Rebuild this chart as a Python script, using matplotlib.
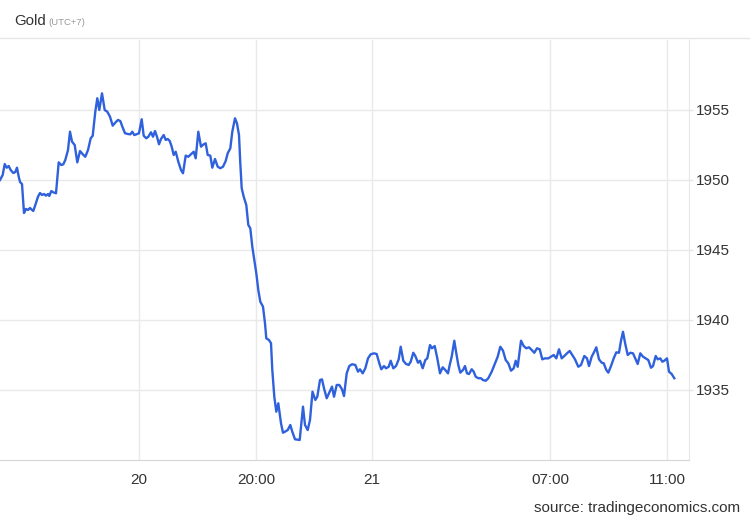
import matplotlib
matplotlib.use("Agg")
import matplotlib.pyplot as plt
from matplotlib.lines import Line2D

plt.rcParams['font.family'] = ['Liberation Sans', 'DejaVu Sans']

# sample position (intraday, non-linear trading time) and gold price
t = [0, 2.7, 4.7, 6.7, 8.7, 10.7, 13.3, 15.3, 17, 18.7, 20, 22, 24, 26, 28, 30, 32, 33.3,
     35.3, 38, 40, 42, 44, 46, 48, 49.3, 51.3, 53.3, 56, 58.7, 61.3, 63.3, 65.3, 68, 70,
     72, 74.7, 77.3, 80, 82.7, 85.3, 88, 90.7, 92.7, 95.3, 97.3, 99.3, 102, 104.7, 107.3,
     110, 112.7, 115.3, 118, 120.3, 123, 125, 127.7, 130.3, 132.3, 134.3, 136.3, 139,
     141.7, 143.7, 146.3, 148.3, 151, 153, 155, 157, 159, 161, 163.7, 165.7, 167.7, 169.7,
     171.7, 173.7, 175.7, 178.3, 181, 183, 185.7, 188.3, 191, 193.7, 195.7, 198.3, 201,
     203.7, 205.7, 207.7, 210.3, 212.3, 215, 217.7, 220.3, 223, 225.7, 227.7, 230.3, 232.3,
     235, 237, 239, 240.3, 241.7, 243.7, 246.3, 248.3, 250.3, 252.3, 254.3, 256.3, 258.3,
     260.3, 263, 265, 266.3, 269, 271, 272.3, 274.3, 276.3, 278.3, 281, 283, 285, 287.7,
     290.3, 292.3, 295, 299.7, 303, 305, 307.7, 310, 312.5, 315.3, 317.3, 320, 322, 324,
     326.7, 329.3, 332, 334, 336.7, 339.3, 342, 344, 346.7, 349.3, 352, 355.3, 358, 360,
     362.7, 365.3, 368, 370.7, 374, 376.7, 379.3, 381.3, 384, 386, 388.7, 390.7, 393.3,
     396, 398.7, 400.7, 403.3, 406, 408.7, 410.7, 413.3, 415.3, 418, 420, 422.7, 425.3,
     427.3, 430, 432, 434.7, 437.3, 440, 442.7, 445.3, 448, 449.7, 451.7, 454.3, 456.3,
     458.3, 460.3, 463, 465, 467, 469, 471.7, 473.7, 475.7, 478.3, 481, 483, 485.7, 488.3,
     491.7, 495, 497.7, 500.3, 503, 505.7, 508.3, 511, 513.7, 515.7, 517.7, 521, 523.7,
     526.3, 529, 531.7, 534.3, 537, 539.7, 542.3, 545, 548.3, 551, 553.7, 556.3, 559,
     561.7, 564.3, 567, 569.7, 572.3, 575, 578.3, 581, 584.3, 587, 589, 591.7, 594.3,
     596.3, 599, 601.7, 603.7, 606.3, 608.3, 611, 613.7, 616.3, 619, 621, 623, 625, 627.7,
     630.3, 633, 635.7, 637.7, 640.3, 643, 645.7, 648.3, 651, 653, 655.7, 657.7, 660.3,
     662.3, 664.3, 667, 669, 671.7, 674.3]

price = [1950.00, 1950.36, 1951.14, 1950.88, 1951.00, 1950.71, 1950.50, 1950.57, 1950.88,
         1950.24, 1949.86, 1949.71, 1947.64, 1947.93, 1947.86, 1948.00, 1947.86, 1947.79,
         1948.21, 1948.81, 1949.07, 1948.93, 1949.00, 1948.88, 1949.00, 1948.86, 1949.21,
         1949.12, 1949.05, 1951.26, 1951.07, 1951.12, 1951.43, 1952.14, 1953.45, 1952.74,
         1952.50, 1951.26, 1952.07, 1951.84, 1951.66, 1952.14, 1952.98, 1953.16, 1954.88,
         1955.84, 1955.00, 1956.19, 1955.00, 1954.88, 1954.52, 1953.88, 1954.10, 1954.29,
         1954.21, 1953.69, 1953.34, 1953.29, 1953.26, 1953.45, 1953.21, 1953.26, 1953.34,
         1954.34, 1953.16, 1952.98, 1953.09, 1953.41, 1953.09, 1953.50, 1953.09, 1952.55,
         1952.93, 1953.21, 1952.86, 1952.93, 1952.79, 1952.38, 1951.79, 1952.02, 1951.31,
         1950.71, 1950.48, 1951.74, 1951.66, 1951.84, 1952.02, 1951.55, 1953.45, 1952.38,
         1952.55, 1952.62, 1951.79, 1951.74, 1950.88, 1951.50, 1950.95, 1950.84, 1950.95,
         1951.36, 1951.91, 1952.26, 1953.45, 1954.41, 1954.04, 1953.21, 1951.19, 1949.41,
         1948.81, 1948.21, 1946.79, 1946.55, 1945.24, 1944.29, 1943.34, 1942.14, 1941.31,
         1940.95, 1939.76, 1938.69, 1938.57, 1938.34, 1936.43, 1934.52, 1933.45, 1934.05,
         1932.62, 1931.95, 1932.02, 1932.14, 1932.50, 1932.02, 1931.48, 1931.43, 1933.81,
         1932.50, 1932.14, 1932.86, 1934.88, 1934.29, 1934.52, 1935.71, 1935.76, 1935.12,
         1934.41, 1934.81, 1935.24, 1934.52, 1935.36, 1935.36, 1935.05, 1934.57, 1936.19,
         1936.71, 1936.84, 1936.79, 1936.31, 1936.48, 1936.19, 1936.55, 1937.26, 1937.55,
         1937.62, 1937.57, 1936.91, 1936.48, 1936.71, 1936.55, 1936.66, 1937.09, 1936.55,
         1936.71, 1937.19, 1938.09, 1937.09, 1936.86, 1936.79, 1937.02, 1937.66, 1937.43,
         1936.95, 1937.09, 1936.55, 1937.14, 1937.26, 1938.21, 1937.98, 1938.14, 1937.26,
         1936.19, 1936.62, 1936.43, 1936.19, 1936.79, 1937.38, 1938.52, 1937.62, 1936.79,
         1936.24, 1936.43, 1936.71, 1936.19, 1936.14, 1936.48, 1936.31, 1935.95, 1935.84,
         1935.84, 1935.71, 1935.66, 1935.84, 1936.31, 1936.91, 1937.38, 1938.09, 1937.81,
         1937.14, 1936.91, 1936.38, 1936.55, 1937.09, 1936.66, 1938.52, 1938.14, 1937.98,
         1938.05, 1937.86, 1937.66, 1937.98, 1937.91, 1937.19, 1937.26, 1937.26, 1937.38,
         1937.50, 1937.26, 1937.91, 1937.26, 1937.43, 1937.62, 1937.79, 1937.50, 1937.19,
         1936.66, 1936.79, 1937.43, 1937.26, 1936.71, 1937.38, 1937.74, 1938.05, 1937.19,
         1936.95, 1936.91, 1936.43, 1936.24, 1936.71, 1937.26, 1937.69, 1937.66, 1938.52,
         1939.16, 1938.38, 1937.50, 1937.66, 1937.62, 1937.19, 1936.86, 1937.62, 1937.38,
         1937.26, 1937.14, 1936.59, 1936.71, 1937.43, 1937.19, 1937.26, 1937.02, 1937.09,
         1937.26, 1936.31, 1936.14, 1935.84]

x_tick_pos = [139, 256, 372, 550, 667]
x_tick_labels = ["20", "20:00", "21", "07:00", "11:00"]
y_ticks = [1935, 1940, 1945, 1950, 1955]

W, H = 750, 520
fig = plt.figure(figsize=(W / 100, H / 100), dpi=100)
ax = fig.add_axes([0, 60 / H, 689 / W, 420 / H])

ax.plot(t, price, color='#2f61dd', lw=1.7, solid_joinstyle='round')
ax.set_xlim(0, 689)
ax.set_ylim(1930, 1960)

ax.set_yticks(y_ticks)
ax.yaxis.tick_right()
ax.tick_params(axis='y', length=3, width=1, color='#e6e6e6', pad=2,
               labelsize=11, labelcolor='#333333')
ax.set_xticks(x_tick_pos)
ax.set_xticklabels(x_tick_labels)
ax.tick_params(axis='x', length=0, pad=9, labelsize=11, labelcolor='#333333')

ax.grid(True, color='#e9e9e9', lw=1)
ax.set_axisbelow(True)
for s in ['top', 'left']:
    ax.spines[s].set_visible(False)
ax.spines['right'].set_color('#e6e6e6')
ax.spines['bottom'].set_color('#d6d6d6')

# header separator
fig.add_artist(Line2D([0, 1], [1 - 38 / H, 1 - 38 / H], transform=fig.transFigure,
                      color='#e6e6e6', lw=1))
fig.text(14 / W, 1 - 25 / H, "Gold", fontsize=10.8, color='#333333', va='baseline')
fig.text(48 / W, 1 - 25 / H, "(UTC+7)", fontsize=6.8, color='#999999', va='baseline')
fig.text(740 / W, 1 - 508 / H, "source: tradingeconomics.com", fontsize=11,
         color='#333333', ha='right', va='center')

fig.savefig("out.png", dpi=100)
